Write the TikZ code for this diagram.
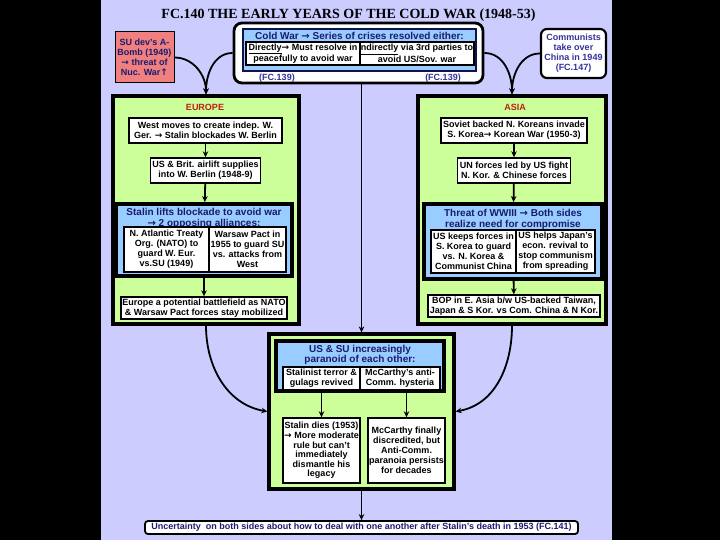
\documentclass[tikz,border=0pt]{standalone}
\usepackage{fontspec}
\setmainfont{Liberation Sans}
\newfontfamily\titlefont{Liberation Serif}
\newfontfamily\arrfont{DejaVu Sans}
\newcommand\rar{{\arrfont\bfseries →}}
\newcommand\uar{{\arrfont\bfseries ↑}}
\usetikzlibrary{arrows.meta}
\definecolor{lav}{RGB}{204,204,255}
\definecolor{grn}{RGB}{204,255,153}
\definecolor{blu}{RGB}{153,204,255}
\definecolor{pnk}{RGB}{240,128,128}
\definecolor{navy}{RGB}{26,26,110}
\definecolor{fcblue}{RGB}{51,51,153}
\definecolor{dred}{RGB}{190,30,20}
\begin{document}
\begin{tikzpicture}[x=1pt,y=-1pt,
  txt/.style={font=\bfseries\fontsize{9}{10}\selectfont, align=center, inner sep=0pt},
  wbox/.style={txt, draw, fill=white, line width=1.4pt},
  gbox/.style={draw, fill=grn, line width=3.2pt, inner sep=0pt},
  bbox/.style={draw, fill=blu, line width=3.8pt, inner sep=0pt},
  ttl/.style={font=\bfseries\fontsize{10}{10.5}\selectfont, align=center, text=navy, inner sep=0pt},
  arr/.style={-{Stealth[length=6pt,width=5.5pt]}, line width=1.8pt},
]
\useasboundingbox (0,0) rectangle (720,540);
\fill[black] (0,0) rectangle (720,540);
\fill[lav] (101,0) rectangle (612,540);

\node[font=\titlefont\bfseries\fontsize{14}{16}\selectfont, inner sep=0pt] (title) at (348.5,15) {FC.140 THE EARLY YEARS OF THE COLD WAR (1948-53)};

% top row
\node[txt, draw, fill=pnk, line width=1pt, text=navy, minimum width=59, minimum height=51] (su) at (144.5,57.5) {SU dev's A-\\Bomb (1949)\\\rar{} threat of\\Nuc. War\uar};
\node[draw, fill=white, line width=2.8pt, rounded corners=8pt, minimum width=249, minimum height=60] (cw) at (358.5,53) {};
\node[draw=navy!70!black, fill=blu, line width=2.8pt, minimum width=233, minimum height=42] (cwb) at (359.5,50) {};
\node[ttl] (cwt) at (359.5,36) {Cold War \rar{} Series of crises resolved either:};
\node[wbox, minimum width=114, minimum height=23] (cwl) at (303,53.5) {\underline{Directly}\rar{} Must resolve in\\peacefully to avoid war};
\node[wbox, minimum width=114, minimum height=23] (cwr) at (417,53.5) {\underline{ndirectly} via 3rd parties to\\avoid US/Sov. war};
\node[txt, text=fcblue] (fc1) at (277,78) {(FC.139)};
\node[txt, text=fcblue] (fc2) at (443,78) {(FC.139)};
\node[txt, draw, fill=white, line width=2.2pt, rounded corners=6pt, text=fcblue, minimum width=65, minimum height=49] (cm) at (573.5,53.5) {Communists\\take over\\China in 1949\\(FC.147)};

% Europe
\node[gbox, minimum width=186, minimum height=228] (eu) at (206,210) {};
\node[txt, text=dred] (eul) at (205,107) {EUROPE};
\node[wbox, minimum width=153, minimum height=25] (e1) at (205.5,130.5) {West moves to create indep. W.\\Ger. \rar{} Stalin blockades W. Berlin};
\node[wbox, minimum width=110, minimum height=25] (e2) at (205.5,170.5) {US \& Brit. airlift supplies\\into W. Berlin (1948-9)};
\node[bbox, minimum width=176, minimum height=72] (e3) at (204,240) {};
\node[ttl] (e3t) at (204,218.5) {Stalin lifts blockade to avoid war\\\rar{} 2 opposing alliances:};
\node[wbox, minimum width=85, minimum height=45] (e3l) at (166.5,249.5) {N. Atlantic Treaty\\Org. (NATO) to\\guard W. Eur.\\vs.SU (1949)};
\node[wbox, minimum width=77, minimum height=45] (e3r) at (247.5,249.5) {Warsaw Pact in\\1955 to guard SU\\vs. attacks from\\West};
\node[wbox, minimum width=166, minimum height=22] (e4) at (204,308) {Europe a potential battlefield as NATO\\\& Warsaw Pact forces stay mobilized};

% Asia
\node[gbox, minimum width=188, minimum height=228] (as) at (512,210) {};
\node[txt, text=dred] (asl) at (515,107) {ASIA};
\node[wbox, minimum width=146, minimum height=25] (a1) at (514,130.5) {Soviet backed N. Koreans invade\\S. Korea\rar{} Korean War (1950-3)};
\node[wbox, minimum width=113, minimum height=25] (a2) at (514,170.5) {UN forces led by US fight\\N. Kor. \& Chinese forces};
\node[bbox, minimum width=178, minimum height=75] (a3) at (513,241.5) {};
\node[ttl] (a3t) at (513,219.5) {Threat of WWIII \rar{} Both sides\\realize need for compromise};
\node[wbox, minimum width=85, minimum height=43] (a3l) at (473.5,251.5) {US keeps forces in\\S. Korea to guard\\vs. N. Korea \&\\Communist China};
\node[wbox, minimum width=79, minimum height=43] (a3r) at (555.5,251.5) {US helps Japan's\\econ. revival to\\stop communism\\from spreading};
\node[wbox, minimum width=172, minimum height=22] (a4) at (514,306) {BOP in E. Asia b/w US-backed Taiwan,\\Japan \& S Kor. vs Com. China \& N Kor.};

% Paranoid
\node[gbox, minimum width=185, minimum height=155] (pg) at (361.5,411.5) {};
\node[bbox, minimum width=168, minimum height=50] (pb) at (360,366) {};
\node[ttl] (pbt) at (360,355) {US \& SU increasingly\\paranoid of each other:};
\node[wbox, minimum width=77, minimum height=23] (pl) at (321.5,378.5) {Stalinist terror \&\\gulags revived};
\node[wbox, minimum width=80, minimum height=23] (pr) at (400,378.5) {McCarthy's anti-\\Comm. hysteria};
\node[wbox, minimum width=77, minimum height=65, font=\bfseries\fontsize{9}{9.6}\selectfont] (p3) at (321.5,450.5) {Stalin dies (1953)\\\rar{} More moderate\\rule but can't\\immediately\\dismantle his\\legacy};
\node[wbox, minimum width=77, minimum height=65] (p4) at (406.5,450.5) {McCarthy finally\\discredited, but\\Anti-Comm.\\paranoia persists\\for decades};

% final
\node[txt, draw, fill=white, line width=1.8pt, rounded corners=3pt, text=navy, minimum width=433, minimum height=13] (fin) at (361.5,527.5) {Uncertainty\ \ on both sides about how to deal with one another after Stalin's death in 1953 (FC.141)};

% connectors
\draw[arr] (su.east) to[out=0,in=90] (eu.north);
\draw[arr] (cw.west) to[out=180,in=90] (eu.north);
\draw[arr] (cw.east) to[out=0,in=90] (as.north);
\draw[arr] (cm.west) to[out=180,in=90] (as.north);
\draw[arr] (pg.north |- cw.south) -- (pg.north);
\draw[arr] (e1) -- (e2);
\draw[arr] (e2) -- (e3);
\draw[arr] (e3) -- (e4);
\draw[arr] (a1) -- (a2);
\draw[arr] (a2) -- (a3);
\draw[arr] (a3) -- (a4);
\draw[arr] (p3.north |- pb.south) -- (p3.north);
\draw[arr] (p4.north |- pb.south) -- (p4.north);
\draw[arr] (eu.south) to[out=-90,in=170] (pg.west);
\draw[arr] (as.south) to[out=-90,in=10] (pg.east);
\draw[arr] (pg.south) -- (fin.north);
\end{tikzpicture}
\end{document}
